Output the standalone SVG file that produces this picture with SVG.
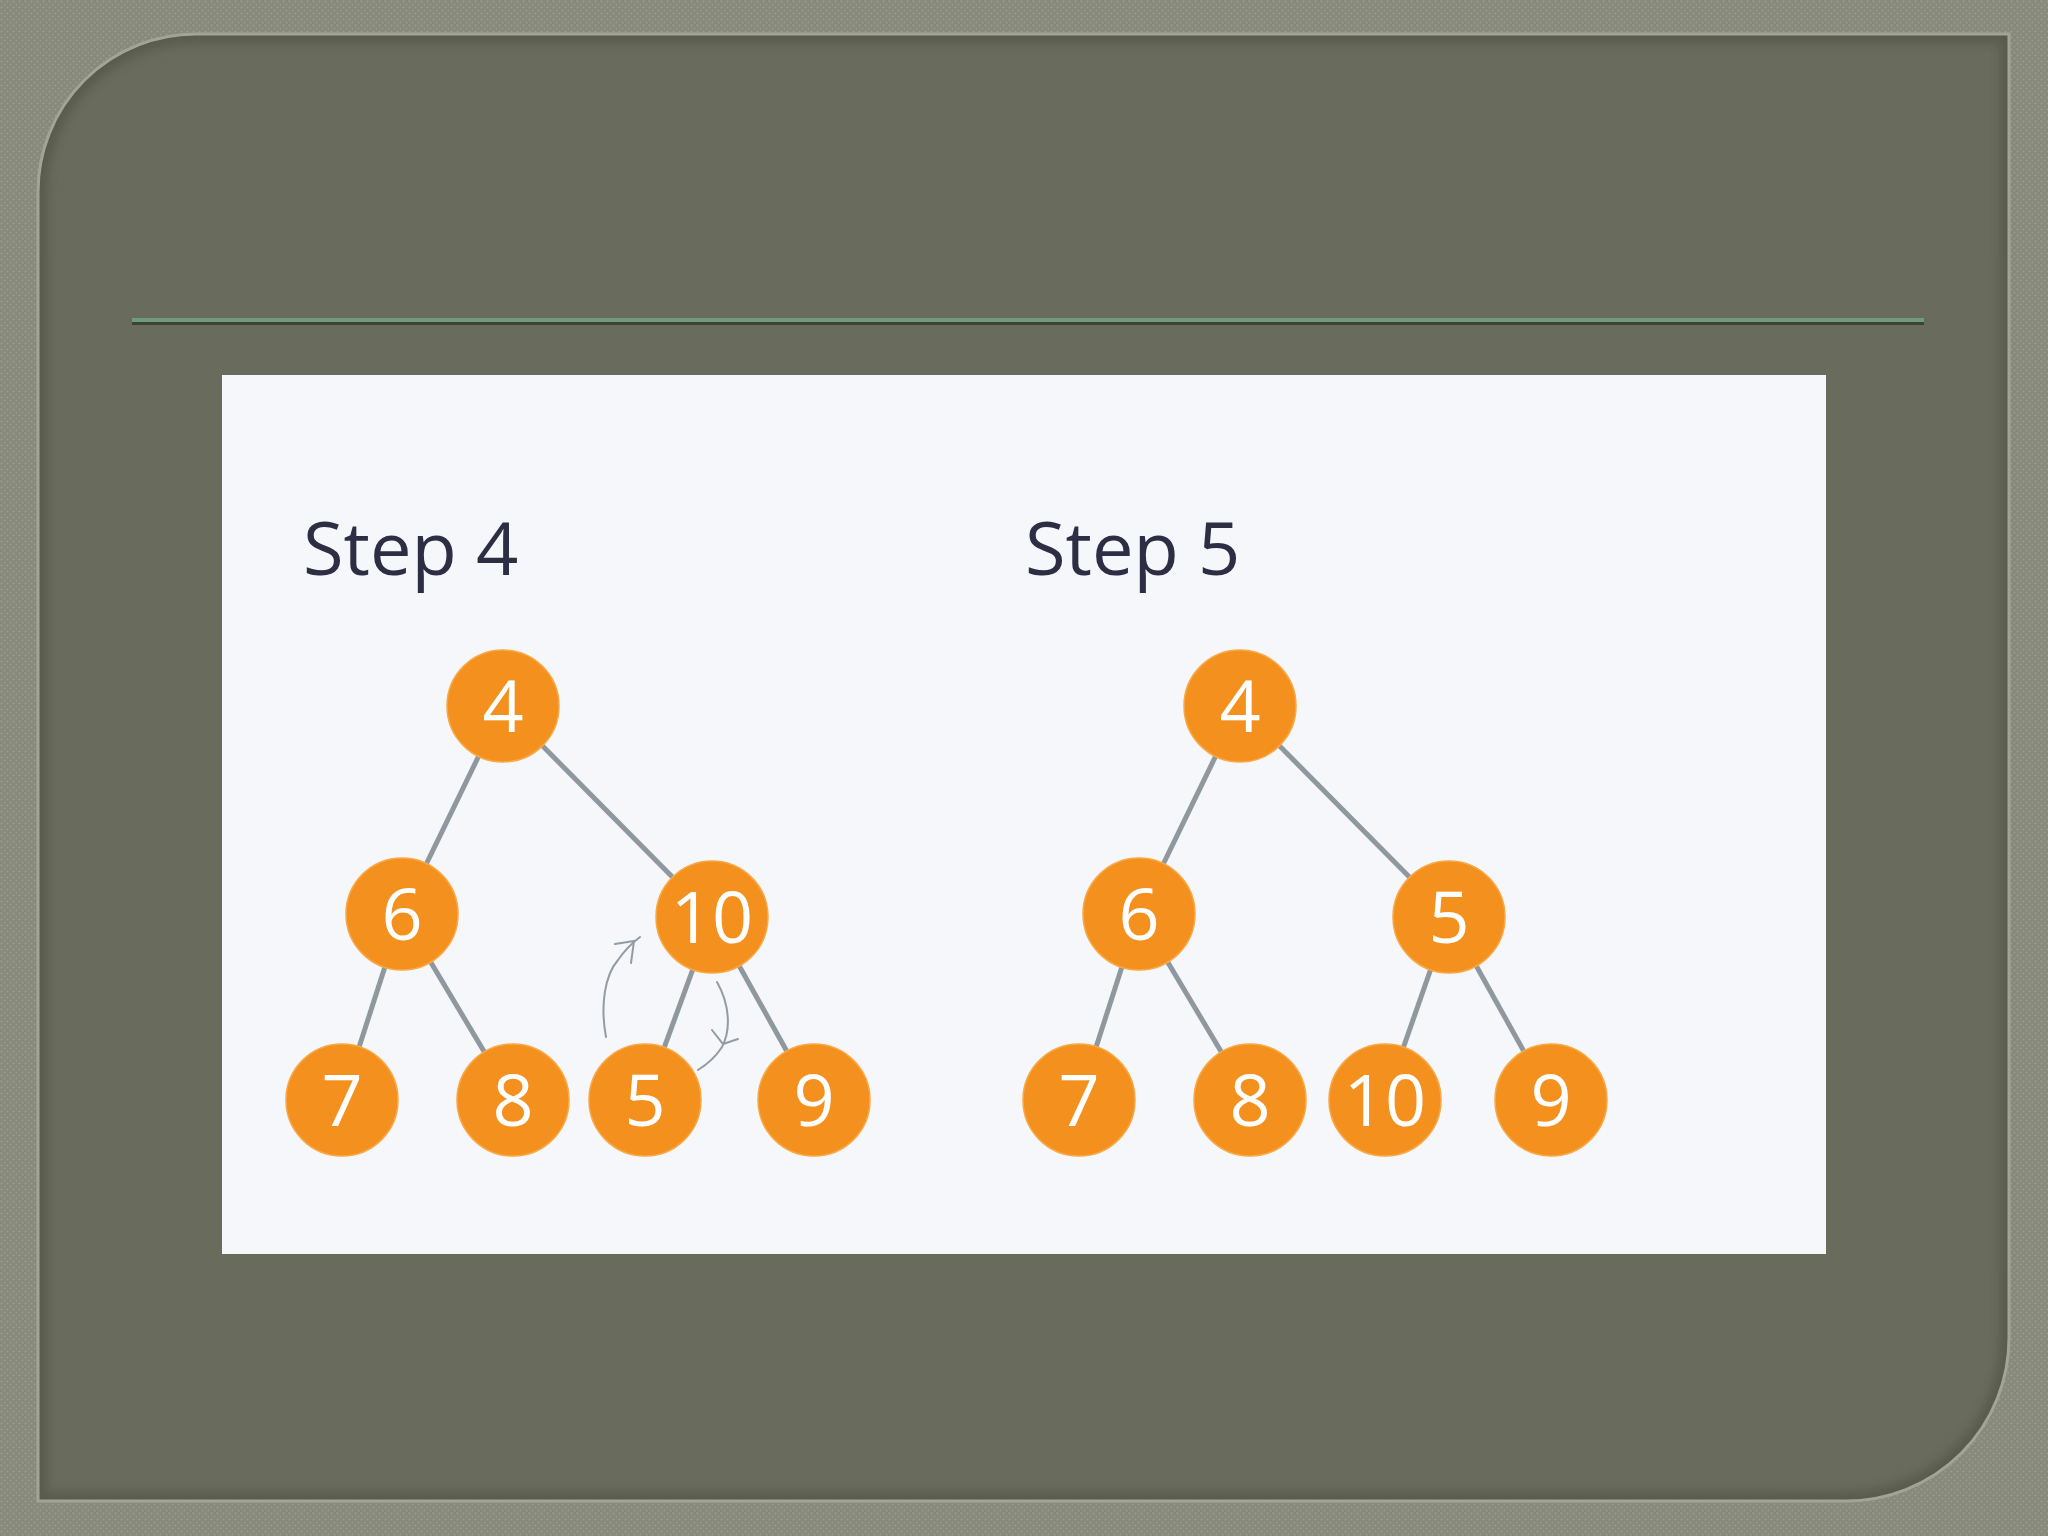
<svg xmlns="http://www.w3.org/2000/svg" width="2048" height="1536" viewBox="0 0 2048 1536">
  <defs>
    <pattern id="tex" width="6" height="6" patternUnits="userSpaceOnUse">
      <rect width="6" height="6" fill="#878a7a"/>
      <circle cx="1.5" cy="1.5" r="1.1" fill="#9a9d8d"/>
      <circle cx="4.5" cy="4.5" r="1.1" fill="#979a8a"/>
    </pattern>
    <clipPath id="pclip">
      <path d="M196,34 H2009 V1338 A163,163 0 0 1 1846,1501 H38 V192 A158,158 0 0 1 196,34 Z"/>
    </clipPath>
    <filter id="soft" x="-5%" y="-5%" width="110%" height="110%">
      <feGaussianBlur stdDeviation="5"/>
    </filter>
    <style>
      .edge { stroke: #8f979f; stroke-width: 5; fill: none; }
      .swap { stroke: #939ba3; stroke-width: 2; fill: none; stroke-linecap: round; }
      .node circle { fill: #f4911e; stroke: #f8a845; stroke-width: 1.5; }
      .node text { fill: #ffffff; font-family: "Open Sans", "Liberation Sans", sans-serif; font-size: 72px; text-anchor: middle; }
      .title { fill: #2d2e44; font-family: "Open Sans", "Liberation Sans", sans-serif; font-size: 74px; }
    </style>
  </defs>

  <!-- textured outer background -->
  <rect x="0" y="0" width="2048" height="1536" fill="url(#tex)"/>

  <!-- main panel -->
  <g id="panel">
    <path d="M196,34 H2009 V1338 A163,163 0 0 1 1846,1501 H38 V192 A158,158 0 0 1 196,34 Z" fill="#696b5c"/>
    <g clip-path="url(#pclip)">
      <path d="M196,34 H2009 V1338 A163,163 0 0 1 1846,1501 H38 V192 A158,158 0 0 1 196,34 Z" fill="none" stroke="#4c4f42" stroke-width="18" opacity="0.55" filter="url(#soft)"/>
    </g>
    <path d="M196,34 H2009 V1338 A163,163 0 0 1 1846,1501 H38 V192 A158,158 0 0 1 196,34 Z" fill="none" stroke="#a2a595" stroke-width="3"/>
  </g>

  <!-- title rule -->
  <g id="rule">
    <rect x="132" y="318" width="1792" height="4" fill="#6f9a7d"/>
    <rect x="132" y="322" width="1792" height="3" fill="#3c4335"/>
  </g>

  <!-- picture area -->
  <rect id="picture" x="222" y="375" width="1604" height="879" fill="#f5f7fa"/>

  <text class="title" x="303" y="575">Step 4</text>
  <text class="title" x="1025" y="575">Step 5</text>

  <!-- connectors -->
  <g id="connectors">
    <!-- Step 4 -->
    <line class="edge" x1="503" y1="706" x2="402" y2="914"/>
    <line class="edge" x1="503" y1="706" x2="712" y2="917"/>
    <line class="edge" x1="402" y1="914" x2="342" y2="1100"/>
    <line class="edge" x1="402" y1="914" x2="513" y2="1100"/>
    <line class="edge" x1="712" y1="917" x2="645" y2="1100"/>
    <line class="edge" x1="712" y1="917" x2="814" y2="1100"/>
    <!-- Step 5 -->
    <line class="edge" x1="1240" y1="706" x2="1139" y2="914"/>
    <line class="edge" x1="1240" y1="706" x2="1449" y2="917"/>
    <line class="edge" x1="1139" y1="914" x2="1079" y2="1100"/>
    <line class="edge" x1="1139" y1="914" x2="1250" y2="1100"/>
    <line class="edge" x1="1449" y1="917" x2="1385" y2="1100"/>
    <line class="edge" x1="1449" y1="917" x2="1551" y2="1100"/>
    <!-- swap arrows (step 4) -->
    <path class="swap" d="M606,1037 C600,1005 605,975 618,960 C625,950 632,943 640,937"/>
    <path class="swap" d="M615,944 L634,941 L631,963"/>
    <path class="swap" d="M717,982 C730,1005 731,1030 722,1047 C715,1058 706,1065 698,1070"/>
    <path class="swap" d="M712,1030 L723,1044 L738,1039"/>
  </g>

  <!-- Step 4 nodes -->
  <g id="s4-n4" class="node"><circle cx="503" cy="706" r="56"/><text x="503" y="732">4</text></g>
  <g id="s4-n6" class="node"><circle cx="402" cy="914" r="56"/><text x="402" y="940">6</text></g>
  <g id="s4-n10" class="node"><circle cx="712" cy="917" r="56"/><text x="712" y="943">10</text></g>
  <g id="s4-n7" class="node"><circle cx="342" cy="1100" r="56"/><text x="342" y="1126">7</text></g>
  <g id="s4-n8" class="node"><circle cx="513" cy="1100" r="56"/><text x="513" y="1126">8</text></g>
  <g id="s4-n5" class="node"><circle cx="645" cy="1100" r="56"/><text x="645" y="1126">5</text></g>
  <g id="s4-n9" class="node"><circle cx="814" cy="1100" r="56"/><text x="814" y="1126">9</text></g>

  <!-- Step 5 nodes -->
  <g id="s5-n4" class="node"><circle cx="1240" cy="706" r="56"/><text x="1240" y="732">4</text></g>
  <g id="s5-n6" class="node"><circle cx="1139" cy="914" r="56"/><text x="1139" y="940">6</text></g>
  <g id="s5-n5" class="node"><circle cx="1449" cy="917" r="56"/><text x="1449" y="943">5</text></g>
  <g id="s5-n7" class="node"><circle cx="1079" cy="1100" r="56"/><text x="1079" y="1126">7</text></g>
  <g id="s5-n8" class="node"><circle cx="1250" cy="1100" r="56"/><text x="1250" y="1126">8</text></g>
  <g id="s5-n10" class="node"><circle cx="1385" cy="1100" r="56"/><text x="1385" y="1126">10</text></g>
  <g id="s5-n9" class="node"><circle cx="1551" cy="1100" r="56"/><text x="1551" y="1126">9</text></g>
</svg>
